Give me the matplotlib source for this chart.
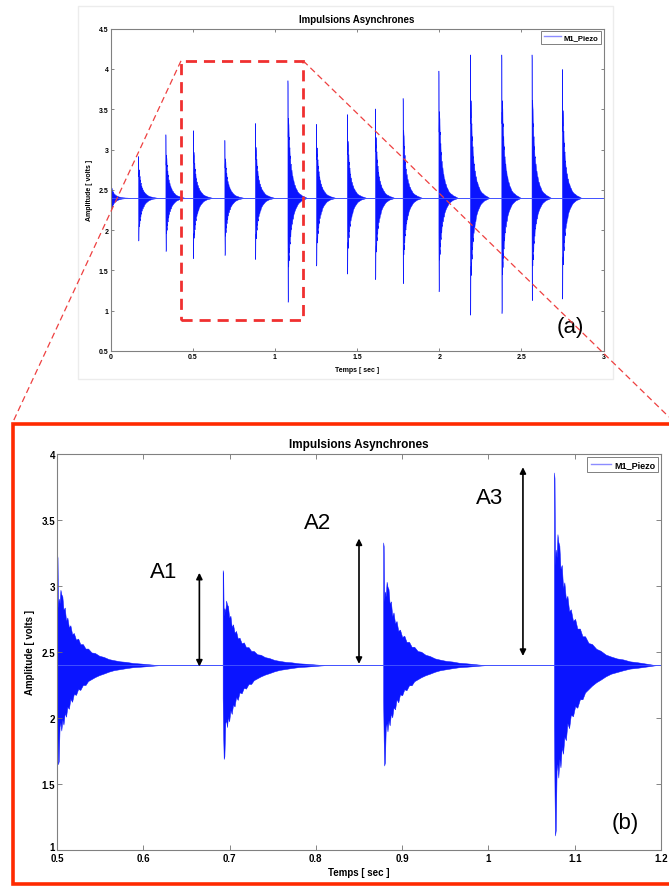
import numpy as np
import matplotlib.pyplot as plt
from matplotlib.lines import Line2D
from matplotlib.patches import Rectangle

plt.rcParams['font.family'] = ['Liberation Sans', 'DejaVu Sans']

# signal: resting level and bursts (onset, spike top, spike bottom)
base = 2.4
t_range = [0.0, 3.0]
onsets = [0.0, 0.167, 0.333, 0.5, 0.692, 0.878, 1.076, 1.25, 1.438, 1.609,
          1.777, 1.995, 2.187, 2.378, 2.562, 2.747]
peaks = [2.59, 2.92, 3.19, 3.24, 3.12, 3.33, 3.86, 3.32, 3.44, 3.51,
         3.64, 3.98, 4.18, 4.18, 4.18, 4.0]
troughs = [2.22, 1.87, 1.74, 1.65, 1.69, 1.64, 1.11, 1.56, 1.46, 1.39,
           1.34, 1.24, 0.95, 0.97, 1.13, 1.15]

env_t = [0.0, 0.0006, 0.0012, 0.002, 0.003, 0.004, 0.005, 0.0062, 0.0075, 0.009,
         0.0105, 0.012, 0.0138, 0.0155, 0.0175, 0.0195, 0.022, 0.0245, 0.027, 0.030,
         0.033, 0.036, 0.040, 0.044, 0.049, 0.054, 0.060, 0.066, 0.073, 0.080,
         0.088, 0.097, 0.107, 0.118]
env_up = [1.0, 0.97, 0.52, 0.6, 0.56, 0.68, 0.64, 0.62, 0.5, 0.52,
          0.4, 0.43, 0.34, 0.36, 0.28, 0.29, 0.23, 0.24, 0.19, 0.19,
          0.15, 0.15, 0.115, 0.11, 0.085, 0.075, 0.055, 0.045, 0.035, 0.03,
          0.02, 0.015, 0.008, 0.0]
env_lo = [0.35, 0.75, 1.0, 0.97, 0.62, 0.58, 0.66, 0.55, 0.6, 0.48,
          0.52, 0.42, 0.44, 0.34, 0.37, 0.29, 0.3, 0.24, 0.25, 0.2,
          0.2, 0.16, 0.14, 0.12, 0.1, 0.085, 0.065, 0.05, 0.04, 0.03,
          0.02, 0.015, 0.008, 0.0]

# zoom window marked on (a): t0, t1, v0, v1
zoom_box = [0.428, 1.172, 0.885, 4.1]

# amplitude arrows in (b)
arrow_names = ['A1', 'A2', 'A3']
arrow_x = [0.665, 0.85, 1.04]
arrow_lo = [2.39, 2.41, 2.47]
arrow_hi = [3.1, 3.36, 3.9]
label_x = [0.624, 0.802, 1.001]
label_y = [3.11, 3.48, 3.67]

W, H = 669, 887
BLUE = '#0a14ff'
RED = '#ff2a00'


def fpx(x, y):
    return x / W, 1 - y / H


def draw_signal(ax, fs_tick, fs_title, fs_leg, ticklen):
    ax.plot(t_range, [base, base], color='#4050ff', lw=0.7, label='M1_Piezo')
    t = np.array(env_t)
    for t0, p, q in zip(onsets, peaks, troughs):
        up = base + np.array(env_up) * (p - base)
        lo = base - np.array(env_lo) * (base - q)
        ax.fill_between(t0 + t, lo, up, color=BLUE, lw=0.35, edgecolor=BLUE)
    ax.set_title('Impulsions Asynchrones', fontsize=fs_title, fontweight='bold', pad=5)
    ax.tick_params(direction='in', top=True, right=True, length=ticklen, width=0.6,
                   color='#707070', labelsize=fs_tick, pad=1.5)
    for s in ax.spines.values():
        s.set_color('#808080')
        s.set_linewidth(0.8)
    leg = ax.legend(loc='upper right', handlelength=2.3, fancybox=False,
                    borderpad=0.35, borderaxespad=0.3, handletextpad=0.3, framealpha=1,
                    edgecolor='#808080', prop={'weight': 'bold', 'size': fs_leg})
    leg.get_frame().set_linewidth(0.7)
    leg.get_lines()[0].set_color('#8c8cff')
    leg.get_lines()[0].set_linewidth(1.0)


fig = plt.figure(figsize=(W / 100, H / 100), dpi=100)

# light frame of the screenshot holding (a)
fig.add_artist(Rectangle(fpx(78, 380), 535 / W, 373 / H, transform=fig.transFigure,
                         fill=False, edgecolor='#ececec', lw=1.0))

# (a) whole record
ax_a = fig.add_axes([110.7 / W, 1 - 352 / H, 492.8 / W, 322.4 / H])
draw_signal(ax_a, 5, 7, 5.5, 2.5)
ax_a.set_xlim(0, 3)
ax_a.set_ylim(0.5, 4.5)
ax_a.set_xticks(np.arange(0, 3.01, 0.5))
ax_a.set_xticklabels(['0', '0.5', '1', '1.5', '2', '2.5', '3'], fontweight='bold')
ax_a.set_yticks(np.arange(0.5, 4.51, 0.5))
ax_a.set_yticklabels(['0.5', '1', '1.5', '2', '2.5', '3', '3.5', '4', '4.5'],
                     fontweight='bold')
ax_a.set_xlabel('Temps [ sec ]', fontsize=5, fontweight='bold')
ax_a.set_ylabel('Amplitude [ volts ]', fontsize=5, fontweight='bold')
ax_a.xaxis.set_label_coords(0.5, -0.045)
ax_a.yaxis.set_label_coords(-0.036, 0.5)
ax_a.text(0.933, 0.075, '(a)', transform=ax_a.transAxes, fontsize=16,
          ha='center', va='center')

# (b) zoom on 0.5 - 1.2 s
ax_b = fig.add_axes([57 / W, 1 - 851 / H, 604 / W, 396 / H])
draw_signal(ax_b, 7, 8.5, 6.5, 3.5)
ax_b.set_xlim(0.5, 1.2)
ax_b.set_ylim(1, 4)
ax_b.set_xticks(np.arange(0.5, 1.201, 0.1))
ax_b.set_xticklabels(['0.5', '0.6', '0.7', '0.8', '0.9', '1', '1.1', '1.2'],
                     fontweight='bold')
ax_b.set_yticks(np.arange(1, 4.01, 0.5))
ylabs = ax_b.set_yticklabels(['1', '1.5', '2', '2.5', '3', '3.5', '4'], fontweight='bold')
ylabs[0].set_va('baseline')  # the "1" sits just above the corner
ax_b.tick_params(axis='x', pad=2.5)
ax_b.set_xlabel('Temps [ sec ]', fontsize=7, fontweight='bold')
ax_b.set_ylabel('Amplitude [ volts ]', fontsize=7, fontweight='bold')
ax_b.xaxis.set_label_coords(0.5, -0.043)
ax_b.yaxis.set_label_coords(-0.036, 0.5)
ax_b.text(0.94, 0.07, '(b)', transform=ax_b.transAxes, fontsize=16,
          ha='center', va='center')

for name, x, lo, hi, lx, ly in zip(arrow_names, arrow_x, arrow_lo, arrow_hi, label_x, label_y):
    ax_b.annotate('', xy=(x, hi), xytext=(x, lo),
                  arrowprops=dict(arrowstyle='<|-|>', color='black', lw=1.2,
                                  mutation_scale=9, shrinkA=0, shrinkB=0))
    ax_b.text(lx, ly, name, fontsize=16, ha='center', va='center')

# red frame round (b), open on the right where it runs off the page
fx0, fy0 = fpx(13, 885)
fx1, fy1 = fpx(669, 425)
fig.add_artist(Line2D([fx1 + 0.01, fx0, fx0, fx1 + 0.01], [fy1, fy1, fy0, fy0],
                      transform=fig.transFigure, color=RED, lw=2.6,
                      solid_joinstyle='miter'))

# dashed zoom window on (a) and the lines leading to (b)
t0, t1, v0, v1 = zoom_box
ax_a.add_patch(Rectangle((t0, v0), t1 - t0, v1 - v0, fill=False, edgecolor='#f03030',
                         lw=2.0, ls=(0, (4, 2.5)), clip_on=False, zorder=5))
to_fig = ax_a.transData + fig.transFigure.inverted()
tl = to_fig.transform((t0, v1))
tr = to_fig.transform((t1, v1))
for a, b in [(tl, fpx(12, 425)), (tr, fpx(669, 418))]:
    fig.add_artist(Line2D([a[0], b[0]], [a[1], b[1]], transform=fig.transFigure,
                          color='#ee4040', lw=0.9, ls=(0, (5, 3))))

fig.savefig('out.png', dpi=100, facecolor='white')
